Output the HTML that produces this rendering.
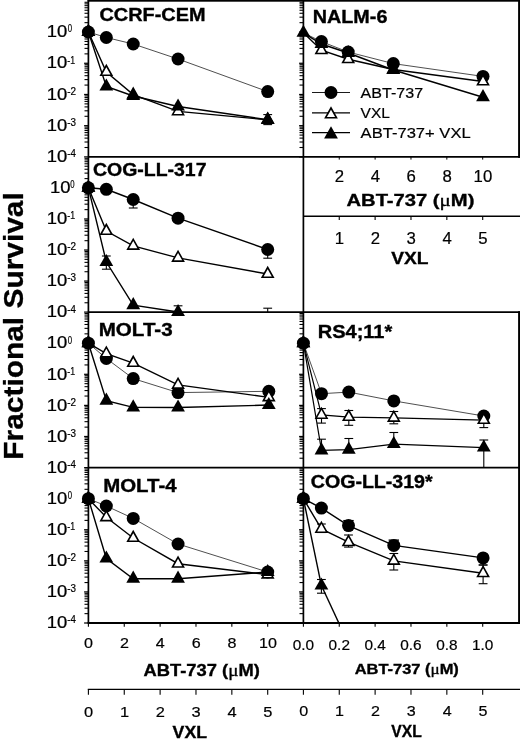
<!DOCTYPE html>
<html><head><meta charset="utf-8"><title>Fractional Survival</title>
<style>
html,body{margin:0;padding:0;background:#fff;}
svg{display:block;}
</style></head>
<body>
<svg width="520" height="743" viewBox="0 0 520 743">
<defs><filter id="soft" x="-5%" y="-5%" width="110%" height="110%" color-interpolation-filters="sRGB"><feGaussianBlur stdDeviation="0.35"/></filter></defs>
<g filter="url(#soft)">
<rect x="-10" y="-10" width="540" height="763" fill="#fff"/>
<g font-family='"Liberation Sans", Arial, Helvetica, sans-serif' fill="#000">
<text transform="translate(22.70,459.64) rotate(-90) scale(1.0625,1)" font-size="28.14" font-weight="bold" stroke="#000" stroke-width="0.3">Fractional Survival</text>
<line x1="84.10" y1="32.06" x2="88.40" y2="32.06" stroke="#000" stroke-width="1.25"/>
<line x1="84.50" y1="22.66" x2="88.40" y2="22.66" stroke="#000" stroke-width="1.1"/>
<line x1="84.50" y1="17.17" x2="88.40" y2="17.17" stroke="#000" stroke-width="1.1"/>
<line x1="84.50" y1="13.27" x2="88.40" y2="13.27" stroke="#000" stroke-width="1.1"/>
<line x1="84.50" y1="10.25" x2="88.40" y2="10.25" stroke="#000" stroke-width="1.1"/>
<line x1="84.50" y1="7.77" x2="88.40" y2="7.77" stroke="#000" stroke-width="1.1"/>
<line x1="84.50" y1="5.68" x2="88.40" y2="5.68" stroke="#000" stroke-width="1.1"/>
<line x1="84.50" y1="3.87" x2="88.40" y2="3.87" stroke="#000" stroke-width="1.1"/>
<line x1="84.50" y1="2.28" x2="88.40" y2="2.28" stroke="#000" stroke-width="1.1"/>
<line x1="84.10" y1="63.27" x2="88.40" y2="63.27" stroke="#000" stroke-width="1.25"/>
<line x1="84.50" y1="53.87" x2="88.40" y2="53.87" stroke="#000" stroke-width="1.1"/>
<line x1="84.50" y1="48.38" x2="88.40" y2="48.38" stroke="#000" stroke-width="1.1"/>
<line x1="84.50" y1="44.48" x2="88.40" y2="44.48" stroke="#000" stroke-width="1.1"/>
<line x1="84.50" y1="41.46" x2="88.40" y2="41.46" stroke="#000" stroke-width="1.1"/>
<line x1="84.50" y1="38.98" x2="88.40" y2="38.98" stroke="#000" stroke-width="1.1"/>
<line x1="84.50" y1="36.89" x2="88.40" y2="36.89" stroke="#000" stroke-width="1.1"/>
<line x1="84.50" y1="35.08" x2="88.40" y2="35.08" stroke="#000" stroke-width="1.1"/>
<line x1="84.50" y1="33.49" x2="88.40" y2="33.49" stroke="#000" stroke-width="1.1"/>
<line x1="84.10" y1="94.48" x2="88.40" y2="94.48" stroke="#000" stroke-width="1.25"/>
<line x1="84.50" y1="85.08" x2="88.40" y2="85.08" stroke="#000" stroke-width="1.1"/>
<line x1="84.50" y1="79.59" x2="88.40" y2="79.59" stroke="#000" stroke-width="1.1"/>
<line x1="84.50" y1="75.69" x2="88.40" y2="75.69" stroke="#000" stroke-width="1.1"/>
<line x1="84.50" y1="72.67" x2="88.40" y2="72.67" stroke="#000" stroke-width="1.1"/>
<line x1="84.50" y1="70.19" x2="88.40" y2="70.19" stroke="#000" stroke-width="1.1"/>
<line x1="84.50" y1="68.10" x2="88.40" y2="68.10" stroke="#000" stroke-width="1.1"/>
<line x1="84.50" y1="66.29" x2="88.40" y2="66.29" stroke="#000" stroke-width="1.1"/>
<line x1="84.50" y1="64.70" x2="88.40" y2="64.70" stroke="#000" stroke-width="1.1"/>
<line x1="84.10" y1="125.69" x2="88.40" y2="125.69" stroke="#000" stroke-width="1.25"/>
<line x1="84.50" y1="116.29" x2="88.40" y2="116.29" stroke="#000" stroke-width="1.1"/>
<line x1="84.50" y1="110.80" x2="88.40" y2="110.80" stroke="#000" stroke-width="1.1"/>
<line x1="84.50" y1="106.90" x2="88.40" y2="106.90" stroke="#000" stroke-width="1.1"/>
<line x1="84.50" y1="103.88" x2="88.40" y2="103.88" stroke="#000" stroke-width="1.1"/>
<line x1="84.50" y1="101.40" x2="88.40" y2="101.40" stroke="#000" stroke-width="1.1"/>
<line x1="84.50" y1="99.31" x2="88.40" y2="99.31" stroke="#000" stroke-width="1.1"/>
<line x1="84.50" y1="97.50" x2="88.40" y2="97.50" stroke="#000" stroke-width="1.1"/>
<line x1="84.50" y1="95.91" x2="88.40" y2="95.91" stroke="#000" stroke-width="1.1"/>
<line x1="84.10" y1="156.90" x2="88.40" y2="156.90" stroke="#000" stroke-width="1.25"/>
<line x1="84.50" y1="147.50" x2="88.40" y2="147.50" stroke="#000" stroke-width="1.1"/>
<line x1="84.50" y1="142.01" x2="88.40" y2="142.01" stroke="#000" stroke-width="1.1"/>
<line x1="84.50" y1="138.11" x2="88.40" y2="138.11" stroke="#000" stroke-width="1.1"/>
<line x1="84.50" y1="135.09" x2="88.40" y2="135.09" stroke="#000" stroke-width="1.1"/>
<line x1="84.50" y1="132.61" x2="88.40" y2="132.61" stroke="#000" stroke-width="1.1"/>
<line x1="84.50" y1="130.52" x2="88.40" y2="130.52" stroke="#000" stroke-width="1.1"/>
<line x1="84.50" y1="128.71" x2="88.40" y2="128.71" stroke="#000" stroke-width="1.1"/>
<line x1="84.50" y1="127.12" x2="88.40" y2="127.12" stroke="#000" stroke-width="1.1"/>
<text transform="translate(46.77,37.26) scale(1.1672,1)" font-size="15.80" stroke="#000" stroke-width="0.25">10</text>
<text transform="translate(67.69,32.46) scale(0.7212,1)" font-size="10.80" stroke="#000" stroke-width="0.2">0</text>
<text transform="translate(46.77,68.47) scale(1.1672,1)" font-size="15.80" stroke="#000" stroke-width="0.25">10</text>
<text transform="translate(67.20,63.67) scale(0.8153,1)" font-size="10.80" stroke="#000" stroke-width="0.2">-1</text>
<text transform="translate(46.77,99.68) scale(1.1672,1)" font-size="15.80" stroke="#000" stroke-width="0.25">10</text>
<text transform="translate(67.15,94.88) scale(0.9201,1)" font-size="10.80" stroke="#000" stroke-width="0.2">-2</text>
<text transform="translate(46.77,130.89) scale(1.1672,1)" font-size="15.80" stroke="#000" stroke-width="0.25">10</text>
<text transform="translate(67.16,126.09) scale(0.9144,1)" font-size="10.80" stroke="#000" stroke-width="0.2">-3</text>
<text transform="translate(46.77,162.10) scale(1.1672,1)" font-size="15.80" stroke="#000" stroke-width="0.25">10</text>
<text transform="translate(67.16,157.30) scale(0.8975,1)" font-size="10.80" stroke="#000" stroke-width="0.2">-4</text>
<line x1="84.10" y1="187.94" x2="88.40" y2="187.94" stroke="#000" stroke-width="1.25"/>
<line x1="84.50" y1="178.60" x2="88.40" y2="178.60" stroke="#000" stroke-width="1.1"/>
<line x1="84.50" y1="173.13" x2="88.40" y2="173.13" stroke="#000" stroke-width="1.1"/>
<line x1="84.50" y1="169.25" x2="88.40" y2="169.25" stroke="#000" stroke-width="1.1"/>
<line x1="84.50" y1="166.24" x2="88.40" y2="166.24" stroke="#000" stroke-width="1.1"/>
<line x1="84.50" y1="163.79" x2="88.40" y2="163.79" stroke="#000" stroke-width="1.1"/>
<line x1="84.50" y1="161.71" x2="88.40" y2="161.71" stroke="#000" stroke-width="1.1"/>
<line x1="84.50" y1="159.91" x2="88.40" y2="159.91" stroke="#000" stroke-width="1.1"/>
<line x1="84.50" y1="158.32" x2="88.40" y2="158.32" stroke="#000" stroke-width="1.1"/>
<line x1="84.10" y1="218.98" x2="88.40" y2="218.98" stroke="#000" stroke-width="1.25"/>
<line x1="84.50" y1="209.64" x2="88.40" y2="209.64" stroke="#000" stroke-width="1.1"/>
<line x1="84.50" y1="204.17" x2="88.40" y2="204.17" stroke="#000" stroke-width="1.1"/>
<line x1="84.50" y1="200.29" x2="88.40" y2="200.29" stroke="#000" stroke-width="1.1"/>
<line x1="84.50" y1="197.28" x2="88.40" y2="197.28" stroke="#000" stroke-width="1.1"/>
<line x1="84.50" y1="194.83" x2="88.40" y2="194.83" stroke="#000" stroke-width="1.1"/>
<line x1="84.50" y1="192.75" x2="88.40" y2="192.75" stroke="#000" stroke-width="1.1"/>
<line x1="84.50" y1="190.95" x2="88.40" y2="190.95" stroke="#000" stroke-width="1.1"/>
<line x1="84.50" y1="189.36" x2="88.40" y2="189.36" stroke="#000" stroke-width="1.1"/>
<line x1="84.10" y1="250.02" x2="88.40" y2="250.02" stroke="#000" stroke-width="1.25"/>
<line x1="84.50" y1="240.68" x2="88.40" y2="240.68" stroke="#000" stroke-width="1.1"/>
<line x1="84.50" y1="235.21" x2="88.40" y2="235.21" stroke="#000" stroke-width="1.1"/>
<line x1="84.50" y1="231.33" x2="88.40" y2="231.33" stroke="#000" stroke-width="1.1"/>
<line x1="84.50" y1="228.32" x2="88.40" y2="228.32" stroke="#000" stroke-width="1.1"/>
<line x1="84.50" y1="225.87" x2="88.40" y2="225.87" stroke="#000" stroke-width="1.1"/>
<line x1="84.50" y1="223.79" x2="88.40" y2="223.79" stroke="#000" stroke-width="1.1"/>
<line x1="84.50" y1="221.99" x2="88.40" y2="221.99" stroke="#000" stroke-width="1.1"/>
<line x1="84.50" y1="220.40" x2="88.40" y2="220.40" stroke="#000" stroke-width="1.1"/>
<line x1="84.10" y1="281.06" x2="88.40" y2="281.06" stroke="#000" stroke-width="1.25"/>
<line x1="84.50" y1="271.72" x2="88.40" y2="271.72" stroke="#000" stroke-width="1.1"/>
<line x1="84.50" y1="266.25" x2="88.40" y2="266.25" stroke="#000" stroke-width="1.1"/>
<line x1="84.50" y1="262.37" x2="88.40" y2="262.37" stroke="#000" stroke-width="1.1"/>
<line x1="84.50" y1="259.36" x2="88.40" y2="259.36" stroke="#000" stroke-width="1.1"/>
<line x1="84.50" y1="256.91" x2="88.40" y2="256.91" stroke="#000" stroke-width="1.1"/>
<line x1="84.50" y1="254.83" x2="88.40" y2="254.83" stroke="#000" stroke-width="1.1"/>
<line x1="84.50" y1="253.03" x2="88.40" y2="253.03" stroke="#000" stroke-width="1.1"/>
<line x1="84.50" y1="251.44" x2="88.40" y2="251.44" stroke="#000" stroke-width="1.1"/>
<line x1="84.10" y1="312.10" x2="88.40" y2="312.10" stroke="#000" stroke-width="1.25"/>
<line x1="84.50" y1="302.76" x2="88.40" y2="302.76" stroke="#000" stroke-width="1.1"/>
<line x1="84.50" y1="297.29" x2="88.40" y2="297.29" stroke="#000" stroke-width="1.1"/>
<line x1="84.50" y1="293.41" x2="88.40" y2="293.41" stroke="#000" stroke-width="1.1"/>
<line x1="84.50" y1="290.40" x2="88.40" y2="290.40" stroke="#000" stroke-width="1.1"/>
<line x1="84.50" y1="287.95" x2="88.40" y2="287.95" stroke="#000" stroke-width="1.1"/>
<line x1="84.50" y1="285.87" x2="88.40" y2="285.87" stroke="#000" stroke-width="1.1"/>
<line x1="84.50" y1="284.07" x2="88.40" y2="284.07" stroke="#000" stroke-width="1.1"/>
<line x1="84.50" y1="282.48" x2="88.40" y2="282.48" stroke="#000" stroke-width="1.1"/>
<text transform="translate(49.97,193.14) scale(1.1672,1)" font-size="15.80" stroke="#000" stroke-width="0.25">10</text>
<text transform="translate(70.25,188.34) scale(0.7212,1)" font-size="10.80" stroke="#000" stroke-width="0.2">0</text>
<text transform="translate(46.77,224.18) scale(1.1672,1)" font-size="15.80" stroke="#000" stroke-width="0.25">10</text>
<text transform="translate(67.20,219.38) scale(0.8153,1)" font-size="10.80" stroke="#000" stroke-width="0.2">-1</text>
<text transform="translate(46.77,255.22) scale(1.1672,1)" font-size="15.80" stroke="#000" stroke-width="0.25">10</text>
<text transform="translate(67.15,250.42) scale(0.9201,1)" font-size="10.80" stroke="#000" stroke-width="0.2">-2</text>
<text transform="translate(46.77,286.26) scale(1.1672,1)" font-size="15.80" stroke="#000" stroke-width="0.25">10</text>
<text transform="translate(67.16,281.46) scale(0.9144,1)" font-size="10.80" stroke="#000" stroke-width="0.2">-3</text>
<text transform="translate(46.77,317.30) scale(1.1672,1)" font-size="15.80" stroke="#000" stroke-width="0.25">10</text>
<text transform="translate(67.16,312.50) scale(0.8975,1)" font-size="10.80" stroke="#000" stroke-width="0.2">-4</text>
<line x1="84.10" y1="343.20" x2="88.40" y2="343.20" stroke="#000" stroke-width="1.25"/>
<line x1="84.50" y1="333.84" x2="88.40" y2="333.84" stroke="#000" stroke-width="1.1"/>
<line x1="84.50" y1="328.36" x2="88.40" y2="328.36" stroke="#000" stroke-width="1.1"/>
<line x1="84.50" y1="324.48" x2="88.40" y2="324.48" stroke="#000" stroke-width="1.1"/>
<line x1="84.50" y1="321.46" x2="88.40" y2="321.46" stroke="#000" stroke-width="1.1"/>
<line x1="84.50" y1="319.00" x2="88.40" y2="319.00" stroke="#000" stroke-width="1.1"/>
<line x1="84.50" y1="316.92" x2="88.40" y2="316.92" stroke="#000" stroke-width="1.1"/>
<line x1="84.50" y1="315.11" x2="88.40" y2="315.11" stroke="#000" stroke-width="1.1"/>
<line x1="84.50" y1="313.52" x2="88.40" y2="313.52" stroke="#000" stroke-width="1.1"/>
<line x1="84.10" y1="374.30" x2="88.40" y2="374.30" stroke="#000" stroke-width="1.25"/>
<line x1="84.50" y1="364.94" x2="88.40" y2="364.94" stroke="#000" stroke-width="1.1"/>
<line x1="84.50" y1="359.46" x2="88.40" y2="359.46" stroke="#000" stroke-width="1.1"/>
<line x1="84.50" y1="355.58" x2="88.40" y2="355.58" stroke="#000" stroke-width="1.1"/>
<line x1="84.50" y1="352.56" x2="88.40" y2="352.56" stroke="#000" stroke-width="1.1"/>
<line x1="84.50" y1="350.10" x2="88.40" y2="350.10" stroke="#000" stroke-width="1.1"/>
<line x1="84.50" y1="348.02" x2="88.40" y2="348.02" stroke="#000" stroke-width="1.1"/>
<line x1="84.50" y1="346.21" x2="88.40" y2="346.21" stroke="#000" stroke-width="1.1"/>
<line x1="84.50" y1="344.62" x2="88.40" y2="344.62" stroke="#000" stroke-width="1.1"/>
<line x1="84.10" y1="405.40" x2="88.40" y2="405.40" stroke="#000" stroke-width="1.25"/>
<line x1="84.50" y1="396.04" x2="88.40" y2="396.04" stroke="#000" stroke-width="1.1"/>
<line x1="84.50" y1="390.56" x2="88.40" y2="390.56" stroke="#000" stroke-width="1.1"/>
<line x1="84.50" y1="386.68" x2="88.40" y2="386.68" stroke="#000" stroke-width="1.1"/>
<line x1="84.50" y1="383.66" x2="88.40" y2="383.66" stroke="#000" stroke-width="1.1"/>
<line x1="84.50" y1="381.20" x2="88.40" y2="381.20" stroke="#000" stroke-width="1.1"/>
<line x1="84.50" y1="379.12" x2="88.40" y2="379.12" stroke="#000" stroke-width="1.1"/>
<line x1="84.50" y1="377.31" x2="88.40" y2="377.31" stroke="#000" stroke-width="1.1"/>
<line x1="84.50" y1="375.72" x2="88.40" y2="375.72" stroke="#000" stroke-width="1.1"/>
<line x1="84.10" y1="436.50" x2="88.40" y2="436.50" stroke="#000" stroke-width="1.25"/>
<line x1="84.50" y1="427.14" x2="88.40" y2="427.14" stroke="#000" stroke-width="1.1"/>
<line x1="84.50" y1="421.66" x2="88.40" y2="421.66" stroke="#000" stroke-width="1.1"/>
<line x1="84.50" y1="417.78" x2="88.40" y2="417.78" stroke="#000" stroke-width="1.1"/>
<line x1="84.50" y1="414.76" x2="88.40" y2="414.76" stroke="#000" stroke-width="1.1"/>
<line x1="84.50" y1="412.30" x2="88.40" y2="412.30" stroke="#000" stroke-width="1.1"/>
<line x1="84.50" y1="410.22" x2="88.40" y2="410.22" stroke="#000" stroke-width="1.1"/>
<line x1="84.50" y1="408.41" x2="88.40" y2="408.41" stroke="#000" stroke-width="1.1"/>
<line x1="84.50" y1="406.82" x2="88.40" y2="406.82" stroke="#000" stroke-width="1.1"/>
<line x1="84.10" y1="467.60" x2="88.40" y2="467.60" stroke="#000" stroke-width="1.25"/>
<line x1="84.50" y1="458.24" x2="88.40" y2="458.24" stroke="#000" stroke-width="1.1"/>
<line x1="84.50" y1="452.76" x2="88.40" y2="452.76" stroke="#000" stroke-width="1.1"/>
<line x1="84.50" y1="448.88" x2="88.40" y2="448.88" stroke="#000" stroke-width="1.1"/>
<line x1="84.50" y1="445.86" x2="88.40" y2="445.86" stroke="#000" stroke-width="1.1"/>
<line x1="84.50" y1="443.40" x2="88.40" y2="443.40" stroke="#000" stroke-width="1.1"/>
<line x1="84.50" y1="441.32" x2="88.40" y2="441.32" stroke="#000" stroke-width="1.1"/>
<line x1="84.50" y1="439.51" x2="88.40" y2="439.51" stroke="#000" stroke-width="1.1"/>
<line x1="84.50" y1="437.92" x2="88.40" y2="437.92" stroke="#000" stroke-width="1.1"/>
<text transform="translate(46.77,348.40) scale(1.1672,1)" font-size="15.80" stroke="#000" stroke-width="0.25">10</text>
<text transform="translate(67.69,343.60) scale(0.7212,1)" font-size="10.80" stroke="#000" stroke-width="0.2">0</text>
<text transform="translate(46.77,379.50) scale(1.1672,1)" font-size="15.80" stroke="#000" stroke-width="0.25">10</text>
<text transform="translate(67.20,374.70) scale(0.8153,1)" font-size="10.80" stroke="#000" stroke-width="0.2">-1</text>
<text transform="translate(46.77,410.60) scale(1.1672,1)" font-size="15.80" stroke="#000" stroke-width="0.25">10</text>
<text transform="translate(67.15,405.80) scale(0.9201,1)" font-size="10.80" stroke="#000" stroke-width="0.2">-2</text>
<text transform="translate(46.77,441.70) scale(1.1672,1)" font-size="15.80" stroke="#000" stroke-width="0.25">10</text>
<text transform="translate(67.16,436.90) scale(0.9144,1)" font-size="10.80" stroke="#000" stroke-width="0.2">-3</text>
<text transform="translate(46.77,472.80) scale(1.1672,1)" font-size="15.80" stroke="#000" stroke-width="0.25">10</text>
<text transform="translate(67.16,468.00) scale(0.8975,1)" font-size="10.80" stroke="#000" stroke-width="0.2">-4</text>
<line x1="84.10" y1="498.68" x2="88.40" y2="498.68" stroke="#000" stroke-width="1.25"/>
<line x1="84.50" y1="489.32" x2="88.40" y2="489.32" stroke="#000" stroke-width="1.1"/>
<line x1="84.50" y1="483.85" x2="88.40" y2="483.85" stroke="#000" stroke-width="1.1"/>
<line x1="84.50" y1="479.97" x2="88.40" y2="479.97" stroke="#000" stroke-width="1.1"/>
<line x1="84.50" y1="476.96" x2="88.40" y2="476.96" stroke="#000" stroke-width="1.1"/>
<line x1="84.50" y1="474.50" x2="88.40" y2="474.50" stroke="#000" stroke-width="1.1"/>
<line x1="84.50" y1="472.41" x2="88.40" y2="472.41" stroke="#000" stroke-width="1.1"/>
<line x1="84.50" y1="470.61" x2="88.40" y2="470.61" stroke="#000" stroke-width="1.1"/>
<line x1="84.50" y1="469.02" x2="88.40" y2="469.02" stroke="#000" stroke-width="1.1"/>
<line x1="84.10" y1="529.76" x2="88.40" y2="529.76" stroke="#000" stroke-width="1.25"/>
<line x1="84.50" y1="520.40" x2="88.40" y2="520.40" stroke="#000" stroke-width="1.1"/>
<line x1="84.50" y1="514.93" x2="88.40" y2="514.93" stroke="#000" stroke-width="1.1"/>
<line x1="84.50" y1="511.05" x2="88.40" y2="511.05" stroke="#000" stroke-width="1.1"/>
<line x1="84.50" y1="508.04" x2="88.40" y2="508.04" stroke="#000" stroke-width="1.1"/>
<line x1="84.50" y1="505.58" x2="88.40" y2="505.58" stroke="#000" stroke-width="1.1"/>
<line x1="84.50" y1="503.49" x2="88.40" y2="503.49" stroke="#000" stroke-width="1.1"/>
<line x1="84.50" y1="501.69" x2="88.40" y2="501.69" stroke="#000" stroke-width="1.1"/>
<line x1="84.50" y1="500.10" x2="88.40" y2="500.10" stroke="#000" stroke-width="1.1"/>
<line x1="84.10" y1="560.84" x2="88.40" y2="560.84" stroke="#000" stroke-width="1.25"/>
<line x1="84.50" y1="551.48" x2="88.40" y2="551.48" stroke="#000" stroke-width="1.1"/>
<line x1="84.50" y1="546.01" x2="88.40" y2="546.01" stroke="#000" stroke-width="1.1"/>
<line x1="84.50" y1="542.13" x2="88.40" y2="542.13" stroke="#000" stroke-width="1.1"/>
<line x1="84.50" y1="539.12" x2="88.40" y2="539.12" stroke="#000" stroke-width="1.1"/>
<line x1="84.50" y1="536.66" x2="88.40" y2="536.66" stroke="#000" stroke-width="1.1"/>
<line x1="84.50" y1="534.57" x2="88.40" y2="534.57" stroke="#000" stroke-width="1.1"/>
<line x1="84.50" y1="532.77" x2="88.40" y2="532.77" stroke="#000" stroke-width="1.1"/>
<line x1="84.50" y1="531.18" x2="88.40" y2="531.18" stroke="#000" stroke-width="1.1"/>
<line x1="84.10" y1="591.92" x2="88.40" y2="591.92" stroke="#000" stroke-width="1.25"/>
<line x1="84.50" y1="582.56" x2="88.40" y2="582.56" stroke="#000" stroke-width="1.1"/>
<line x1="84.50" y1="577.09" x2="88.40" y2="577.09" stroke="#000" stroke-width="1.1"/>
<line x1="84.50" y1="573.21" x2="88.40" y2="573.21" stroke="#000" stroke-width="1.1"/>
<line x1="84.50" y1="570.20" x2="88.40" y2="570.20" stroke="#000" stroke-width="1.1"/>
<line x1="84.50" y1="567.74" x2="88.40" y2="567.74" stroke="#000" stroke-width="1.1"/>
<line x1="84.50" y1="565.65" x2="88.40" y2="565.65" stroke="#000" stroke-width="1.1"/>
<line x1="84.50" y1="563.85" x2="88.40" y2="563.85" stroke="#000" stroke-width="1.1"/>
<line x1="84.50" y1="562.26" x2="88.40" y2="562.26" stroke="#000" stroke-width="1.1"/>
<line x1="84.10" y1="623.00" x2="88.40" y2="623.00" stroke="#000" stroke-width="1.25"/>
<line x1="84.50" y1="613.64" x2="88.40" y2="613.64" stroke="#000" stroke-width="1.1"/>
<line x1="84.50" y1="608.17" x2="88.40" y2="608.17" stroke="#000" stroke-width="1.1"/>
<line x1="84.50" y1="604.29" x2="88.40" y2="604.29" stroke="#000" stroke-width="1.1"/>
<line x1="84.50" y1="601.28" x2="88.40" y2="601.28" stroke="#000" stroke-width="1.1"/>
<line x1="84.50" y1="598.82" x2="88.40" y2="598.82" stroke="#000" stroke-width="1.1"/>
<line x1="84.50" y1="596.73" x2="88.40" y2="596.73" stroke="#000" stroke-width="1.1"/>
<line x1="84.50" y1="594.93" x2="88.40" y2="594.93" stroke="#000" stroke-width="1.1"/>
<line x1="84.50" y1="593.34" x2="88.40" y2="593.34" stroke="#000" stroke-width="1.1"/>
<text transform="translate(46.77,503.88) scale(1.1672,1)" font-size="15.80" stroke="#000" stroke-width="0.25">10</text>
<text transform="translate(67.69,499.08) scale(0.7212,1)" font-size="10.80" stroke="#000" stroke-width="0.2">0</text>
<text transform="translate(46.77,534.96) scale(1.1672,1)" font-size="15.80" stroke="#000" stroke-width="0.25">10</text>
<text transform="translate(67.20,530.16) scale(0.8153,1)" font-size="10.80" stroke="#000" stroke-width="0.2">-1</text>
<text transform="translate(46.77,566.04) scale(1.1672,1)" font-size="15.80" stroke="#000" stroke-width="0.25">10</text>
<text transform="translate(67.15,561.24) scale(0.9201,1)" font-size="10.80" stroke="#000" stroke-width="0.2">-2</text>
<text transform="translate(46.77,597.12) scale(1.1672,1)" font-size="15.80" stroke="#000" stroke-width="0.25">10</text>
<text transform="translate(67.16,592.32) scale(0.9144,1)" font-size="10.80" stroke="#000" stroke-width="0.2">-3</text>
<text transform="translate(46.77,628.20) scale(1.1672,1)" font-size="15.80" stroke="#000" stroke-width="0.25">10</text>
<text transform="translate(67.16,623.40) scale(0.8975,1)" font-size="10.80" stroke="#000" stroke-width="0.2">-4</text>
<line x1="299.10" y1="32.06" x2="303.40" y2="32.06" stroke="#000" stroke-width="1.25"/>
<line x1="299.50" y1="22.66" x2="303.40" y2="22.66" stroke="#000" stroke-width="1.1"/>
<line x1="299.50" y1="17.17" x2="303.40" y2="17.17" stroke="#000" stroke-width="1.1"/>
<line x1="299.50" y1="13.27" x2="303.40" y2="13.27" stroke="#000" stroke-width="1.1"/>
<line x1="299.50" y1="10.25" x2="303.40" y2="10.25" stroke="#000" stroke-width="1.1"/>
<line x1="299.50" y1="7.77" x2="303.40" y2="7.77" stroke="#000" stroke-width="1.1"/>
<line x1="299.50" y1="5.68" x2="303.40" y2="5.68" stroke="#000" stroke-width="1.1"/>
<line x1="299.50" y1="3.87" x2="303.40" y2="3.87" stroke="#000" stroke-width="1.1"/>
<line x1="299.50" y1="2.28" x2="303.40" y2="2.28" stroke="#000" stroke-width="1.1"/>
<line x1="299.10" y1="63.27" x2="303.40" y2="63.27" stroke="#000" stroke-width="1.25"/>
<line x1="299.50" y1="53.87" x2="303.40" y2="53.87" stroke="#000" stroke-width="1.1"/>
<line x1="299.50" y1="48.38" x2="303.40" y2="48.38" stroke="#000" stroke-width="1.1"/>
<line x1="299.50" y1="44.48" x2="303.40" y2="44.48" stroke="#000" stroke-width="1.1"/>
<line x1="299.50" y1="41.46" x2="303.40" y2="41.46" stroke="#000" stroke-width="1.1"/>
<line x1="299.50" y1="38.98" x2="303.40" y2="38.98" stroke="#000" stroke-width="1.1"/>
<line x1="299.50" y1="36.89" x2="303.40" y2="36.89" stroke="#000" stroke-width="1.1"/>
<line x1="299.50" y1="35.08" x2="303.40" y2="35.08" stroke="#000" stroke-width="1.1"/>
<line x1="299.50" y1="33.49" x2="303.40" y2="33.49" stroke="#000" stroke-width="1.1"/>
<line x1="299.10" y1="94.48" x2="303.40" y2="94.48" stroke="#000" stroke-width="1.25"/>
<line x1="299.50" y1="85.08" x2="303.40" y2="85.08" stroke="#000" stroke-width="1.1"/>
<line x1="299.50" y1="79.59" x2="303.40" y2="79.59" stroke="#000" stroke-width="1.1"/>
<line x1="299.50" y1="75.69" x2="303.40" y2="75.69" stroke="#000" stroke-width="1.1"/>
<line x1="299.50" y1="72.67" x2="303.40" y2="72.67" stroke="#000" stroke-width="1.1"/>
<line x1="299.50" y1="70.19" x2="303.40" y2="70.19" stroke="#000" stroke-width="1.1"/>
<line x1="299.50" y1="68.10" x2="303.40" y2="68.10" stroke="#000" stroke-width="1.1"/>
<line x1="299.50" y1="66.29" x2="303.40" y2="66.29" stroke="#000" stroke-width="1.1"/>
<line x1="299.50" y1="64.70" x2="303.40" y2="64.70" stroke="#000" stroke-width="1.1"/>
<line x1="299.10" y1="125.69" x2="303.40" y2="125.69" stroke="#000" stroke-width="1.25"/>
<line x1="299.50" y1="116.29" x2="303.40" y2="116.29" stroke="#000" stroke-width="1.1"/>
<line x1="299.50" y1="110.80" x2="303.40" y2="110.80" stroke="#000" stroke-width="1.1"/>
<line x1="299.50" y1="106.90" x2="303.40" y2="106.90" stroke="#000" stroke-width="1.1"/>
<line x1="299.50" y1="103.88" x2="303.40" y2="103.88" stroke="#000" stroke-width="1.1"/>
<line x1="299.50" y1="101.40" x2="303.40" y2="101.40" stroke="#000" stroke-width="1.1"/>
<line x1="299.50" y1="99.31" x2="303.40" y2="99.31" stroke="#000" stroke-width="1.1"/>
<line x1="299.50" y1="97.50" x2="303.40" y2="97.50" stroke="#000" stroke-width="1.1"/>
<line x1="299.50" y1="95.91" x2="303.40" y2="95.91" stroke="#000" stroke-width="1.1"/>
<line x1="299.10" y1="156.90" x2="303.40" y2="156.90" stroke="#000" stroke-width="1.25"/>
<line x1="299.50" y1="147.50" x2="303.40" y2="147.50" stroke="#000" stroke-width="1.1"/>
<line x1="299.50" y1="142.01" x2="303.40" y2="142.01" stroke="#000" stroke-width="1.1"/>
<line x1="299.50" y1="138.11" x2="303.40" y2="138.11" stroke="#000" stroke-width="1.1"/>
<line x1="299.50" y1="135.09" x2="303.40" y2="135.09" stroke="#000" stroke-width="1.1"/>
<line x1="299.50" y1="132.61" x2="303.40" y2="132.61" stroke="#000" stroke-width="1.1"/>
<line x1="299.50" y1="130.52" x2="303.40" y2="130.52" stroke="#000" stroke-width="1.1"/>
<line x1="299.50" y1="128.71" x2="303.40" y2="128.71" stroke="#000" stroke-width="1.1"/>
<line x1="299.50" y1="127.12" x2="303.40" y2="127.12" stroke="#000" stroke-width="1.1"/>
<line x1="299.10" y1="343.20" x2="303.40" y2="343.20" stroke="#000" stroke-width="1.25"/>
<line x1="299.50" y1="333.84" x2="303.40" y2="333.84" stroke="#000" stroke-width="1.1"/>
<line x1="299.50" y1="328.36" x2="303.40" y2="328.36" stroke="#000" stroke-width="1.1"/>
<line x1="299.50" y1="324.48" x2="303.40" y2="324.48" stroke="#000" stroke-width="1.1"/>
<line x1="299.50" y1="321.46" x2="303.40" y2="321.46" stroke="#000" stroke-width="1.1"/>
<line x1="299.50" y1="319.00" x2="303.40" y2="319.00" stroke="#000" stroke-width="1.1"/>
<line x1="299.50" y1="316.92" x2="303.40" y2="316.92" stroke="#000" stroke-width="1.1"/>
<line x1="299.50" y1="315.11" x2="303.40" y2="315.11" stroke="#000" stroke-width="1.1"/>
<line x1="299.50" y1="313.52" x2="303.40" y2="313.52" stroke="#000" stroke-width="1.1"/>
<line x1="299.10" y1="374.30" x2="303.40" y2="374.30" stroke="#000" stroke-width="1.25"/>
<line x1="299.50" y1="364.94" x2="303.40" y2="364.94" stroke="#000" stroke-width="1.1"/>
<line x1="299.50" y1="359.46" x2="303.40" y2="359.46" stroke="#000" stroke-width="1.1"/>
<line x1="299.50" y1="355.58" x2="303.40" y2="355.58" stroke="#000" stroke-width="1.1"/>
<line x1="299.50" y1="352.56" x2="303.40" y2="352.56" stroke="#000" stroke-width="1.1"/>
<line x1="299.50" y1="350.10" x2="303.40" y2="350.10" stroke="#000" stroke-width="1.1"/>
<line x1="299.50" y1="348.02" x2="303.40" y2="348.02" stroke="#000" stroke-width="1.1"/>
<line x1="299.50" y1="346.21" x2="303.40" y2="346.21" stroke="#000" stroke-width="1.1"/>
<line x1="299.50" y1="344.62" x2="303.40" y2="344.62" stroke="#000" stroke-width="1.1"/>
<line x1="299.10" y1="405.40" x2="303.40" y2="405.40" stroke="#000" stroke-width="1.25"/>
<line x1="299.50" y1="396.04" x2="303.40" y2="396.04" stroke="#000" stroke-width="1.1"/>
<line x1="299.50" y1="390.56" x2="303.40" y2="390.56" stroke="#000" stroke-width="1.1"/>
<line x1="299.50" y1="386.68" x2="303.40" y2="386.68" stroke="#000" stroke-width="1.1"/>
<line x1="299.50" y1="383.66" x2="303.40" y2="383.66" stroke="#000" stroke-width="1.1"/>
<line x1="299.50" y1="381.20" x2="303.40" y2="381.20" stroke="#000" stroke-width="1.1"/>
<line x1="299.50" y1="379.12" x2="303.40" y2="379.12" stroke="#000" stroke-width="1.1"/>
<line x1="299.50" y1="377.31" x2="303.40" y2="377.31" stroke="#000" stroke-width="1.1"/>
<line x1="299.50" y1="375.72" x2="303.40" y2="375.72" stroke="#000" stroke-width="1.1"/>
<line x1="299.10" y1="436.50" x2="303.40" y2="436.50" stroke="#000" stroke-width="1.25"/>
<line x1="299.50" y1="427.14" x2="303.40" y2="427.14" stroke="#000" stroke-width="1.1"/>
<line x1="299.50" y1="421.66" x2="303.40" y2="421.66" stroke="#000" stroke-width="1.1"/>
<line x1="299.50" y1="417.78" x2="303.40" y2="417.78" stroke="#000" stroke-width="1.1"/>
<line x1="299.50" y1="414.76" x2="303.40" y2="414.76" stroke="#000" stroke-width="1.1"/>
<line x1="299.50" y1="412.30" x2="303.40" y2="412.30" stroke="#000" stroke-width="1.1"/>
<line x1="299.50" y1="410.22" x2="303.40" y2="410.22" stroke="#000" stroke-width="1.1"/>
<line x1="299.50" y1="408.41" x2="303.40" y2="408.41" stroke="#000" stroke-width="1.1"/>
<line x1="299.50" y1="406.82" x2="303.40" y2="406.82" stroke="#000" stroke-width="1.1"/>
<line x1="299.10" y1="467.60" x2="303.40" y2="467.60" stroke="#000" stroke-width="1.25"/>
<line x1="299.50" y1="458.24" x2="303.40" y2="458.24" stroke="#000" stroke-width="1.1"/>
<line x1="299.50" y1="452.76" x2="303.40" y2="452.76" stroke="#000" stroke-width="1.1"/>
<line x1="299.50" y1="448.88" x2="303.40" y2="448.88" stroke="#000" stroke-width="1.1"/>
<line x1="299.50" y1="445.86" x2="303.40" y2="445.86" stroke="#000" stroke-width="1.1"/>
<line x1="299.50" y1="443.40" x2="303.40" y2="443.40" stroke="#000" stroke-width="1.1"/>
<line x1="299.50" y1="441.32" x2="303.40" y2="441.32" stroke="#000" stroke-width="1.1"/>
<line x1="299.50" y1="439.51" x2="303.40" y2="439.51" stroke="#000" stroke-width="1.1"/>
<line x1="299.50" y1="437.92" x2="303.40" y2="437.92" stroke="#000" stroke-width="1.1"/>
<line x1="299.10" y1="498.68" x2="303.40" y2="498.68" stroke="#000" stroke-width="1.25"/>
<line x1="299.50" y1="489.32" x2="303.40" y2="489.32" stroke="#000" stroke-width="1.1"/>
<line x1="299.50" y1="483.85" x2="303.40" y2="483.85" stroke="#000" stroke-width="1.1"/>
<line x1="299.50" y1="479.97" x2="303.40" y2="479.97" stroke="#000" stroke-width="1.1"/>
<line x1="299.50" y1="476.96" x2="303.40" y2="476.96" stroke="#000" stroke-width="1.1"/>
<line x1="299.50" y1="474.50" x2="303.40" y2="474.50" stroke="#000" stroke-width="1.1"/>
<line x1="299.50" y1="472.41" x2="303.40" y2="472.41" stroke="#000" stroke-width="1.1"/>
<line x1="299.50" y1="470.61" x2="303.40" y2="470.61" stroke="#000" stroke-width="1.1"/>
<line x1="299.50" y1="469.02" x2="303.40" y2="469.02" stroke="#000" stroke-width="1.1"/>
<line x1="299.10" y1="529.76" x2="303.40" y2="529.76" stroke="#000" stroke-width="1.25"/>
<line x1="299.50" y1="520.40" x2="303.40" y2="520.40" stroke="#000" stroke-width="1.1"/>
<line x1="299.50" y1="514.93" x2="303.40" y2="514.93" stroke="#000" stroke-width="1.1"/>
<line x1="299.50" y1="511.05" x2="303.40" y2="511.05" stroke="#000" stroke-width="1.1"/>
<line x1="299.50" y1="508.04" x2="303.40" y2="508.04" stroke="#000" stroke-width="1.1"/>
<line x1="299.50" y1="505.58" x2="303.40" y2="505.58" stroke="#000" stroke-width="1.1"/>
<line x1="299.50" y1="503.49" x2="303.40" y2="503.49" stroke="#000" stroke-width="1.1"/>
<line x1="299.50" y1="501.69" x2="303.40" y2="501.69" stroke="#000" stroke-width="1.1"/>
<line x1="299.50" y1="500.10" x2="303.40" y2="500.10" stroke="#000" stroke-width="1.1"/>
<line x1="299.10" y1="560.84" x2="303.40" y2="560.84" stroke="#000" stroke-width="1.25"/>
<line x1="299.50" y1="551.48" x2="303.40" y2="551.48" stroke="#000" stroke-width="1.1"/>
<line x1="299.50" y1="546.01" x2="303.40" y2="546.01" stroke="#000" stroke-width="1.1"/>
<line x1="299.50" y1="542.13" x2="303.40" y2="542.13" stroke="#000" stroke-width="1.1"/>
<line x1="299.50" y1="539.12" x2="303.40" y2="539.12" stroke="#000" stroke-width="1.1"/>
<line x1="299.50" y1="536.66" x2="303.40" y2="536.66" stroke="#000" stroke-width="1.1"/>
<line x1="299.50" y1="534.57" x2="303.40" y2="534.57" stroke="#000" stroke-width="1.1"/>
<line x1="299.50" y1="532.77" x2="303.40" y2="532.77" stroke="#000" stroke-width="1.1"/>
<line x1="299.50" y1="531.18" x2="303.40" y2="531.18" stroke="#000" stroke-width="1.1"/>
<line x1="299.10" y1="591.92" x2="303.40" y2="591.92" stroke="#000" stroke-width="1.25"/>
<line x1="299.50" y1="582.56" x2="303.40" y2="582.56" stroke="#000" stroke-width="1.1"/>
<line x1="299.50" y1="577.09" x2="303.40" y2="577.09" stroke="#000" stroke-width="1.1"/>
<line x1="299.50" y1="573.21" x2="303.40" y2="573.21" stroke="#000" stroke-width="1.1"/>
<line x1="299.50" y1="570.20" x2="303.40" y2="570.20" stroke="#000" stroke-width="1.1"/>
<line x1="299.50" y1="567.74" x2="303.40" y2="567.74" stroke="#000" stroke-width="1.1"/>
<line x1="299.50" y1="565.65" x2="303.40" y2="565.65" stroke="#000" stroke-width="1.1"/>
<line x1="299.50" y1="563.85" x2="303.40" y2="563.85" stroke="#000" stroke-width="1.1"/>
<line x1="299.50" y1="562.26" x2="303.40" y2="562.26" stroke="#000" stroke-width="1.1"/>
<line x1="299.10" y1="623.00" x2="303.40" y2="623.00" stroke="#000" stroke-width="1.25"/>
<line x1="299.50" y1="613.64" x2="303.40" y2="613.64" stroke="#000" stroke-width="1.1"/>
<line x1="299.50" y1="608.17" x2="303.40" y2="608.17" stroke="#000" stroke-width="1.1"/>
<line x1="299.50" y1="604.29" x2="303.40" y2="604.29" stroke="#000" stroke-width="1.1"/>
<line x1="299.50" y1="601.28" x2="303.40" y2="601.28" stroke="#000" stroke-width="1.1"/>
<line x1="299.50" y1="598.82" x2="303.40" y2="598.82" stroke="#000" stroke-width="1.1"/>
<line x1="299.50" y1="596.73" x2="303.40" y2="596.73" stroke="#000" stroke-width="1.1"/>
<line x1="299.50" y1="594.93" x2="303.40" y2="594.93" stroke="#000" stroke-width="1.1"/>
<line x1="299.50" y1="593.34" x2="303.40" y2="593.34" stroke="#000" stroke-width="1.1"/>
<defs>
<clipPath id="cr0"><rect x="295.4" y="0.85" width="223.70000000000005" height="155.6"/></clipPath>
<clipPath id="cr1"><rect x="295.4" y="156.9" width="223.70000000000005" height="155.6"/></clipPath>
<clipPath id="cr2"><rect x="295.4" y="312.1" width="223.70000000000005" height="155.6"/></clipPath>
<clipPath id="cr3"><rect x="295.4" y="467.6" width="223.70000000000005" height="155.6"/></clipPath>
</defs>
<polyline points="88.40,32.00 106.33,37.50 133.23,44.00 178.05,59.00 267.70,91.60" fill="none" stroke="#222" stroke-width="0.8"/>
<polyline points="88.40,32.00 106.33,72.03 133.23,94.63 178.05,111.43 267.70,119.83" fill="none" stroke="#000" stroke-width="1.4"/>
<polyline points="88.40,32.00 106.33,86.53 133.23,96.03 178.05,106.53 267.70,119.73" fill="none" stroke="#000" stroke-width="1.4"/>
<circle cx="88.40" cy="32.00" r="6.5" fill="#000"/>
<circle cx="106.33" cy="37.50" r="6.5" fill="#000"/>
<circle cx="133.23" cy="44.00" r="6.5" fill="#000"/>
<circle cx="178.05" cy="59.00" r="6.5" fill="#000"/>
<circle cx="267.70" cy="91.60" r="6.5" fill="#000"/>
<polygon points="88.40,25.47 93.90,35.27 82.90,35.27" fill="#fff" stroke="#000" stroke-width="1.6" stroke-linejoin="miter"/>
<polygon points="106.33,65.50 111.83,75.30 100.83,75.30" fill="#fff" stroke="#000" stroke-width="1.6" stroke-linejoin="miter"/>
<polygon points="133.23,88.10 138.73,97.90 127.73,97.90" fill="#fff" stroke="#000" stroke-width="1.6" stroke-linejoin="miter"/>
<polygon points="178.05,104.90 183.55,114.70 172.55,114.70" fill="#fff" stroke="#000" stroke-width="1.6" stroke-linejoin="miter"/>
<polygon points="267.70,113.30 273.20,123.10 262.20,123.10" fill="#fff" stroke="#000" stroke-width="1.6" stroke-linejoin="miter"/>
<line x1="267.70" y1="114.60" x2="267.70" y2="124.60" stroke="#000" stroke-width="1.1"/>
<line x1="263.30" y1="114.60" x2="272.10" y2="114.60" stroke="#000" stroke-width="1.1"/>
<line x1="263.30" y1="124.60" x2="272.10" y2="124.60" stroke="#000" stroke-width="1.1"/>
<polygon points="88.40,23.87 95.30,36.07 81.50,36.07" fill="#000"/>
<polygon points="106.33,78.40 113.23,90.60 99.43,90.60" fill="#000"/>
<polygon points="133.23,87.90 140.13,100.10 126.33,100.10" fill="#000"/>
<polygon points="178.05,98.40 184.95,110.60 171.15,110.60" fill="#000"/>
<polygon points="267.70,111.60 274.60,123.80 260.80,123.80" fill="#000"/>
<polyline points="88.40,187.80 106.33,189.30 133.23,199.50 178.05,218.20 267.70,249.50" fill="none" stroke="#000" stroke-width="1.4"/>
<polyline points="88.40,187.80 106.33,231.03 133.23,245.83 178.05,257.83 267.70,274.03" fill="none" stroke="#000" stroke-width="1.4"/>
<polyline points="88.40,187.80 106.33,262.03 133.23,305.23 178.05,312.03" fill="none" stroke="#000" stroke-width="1.4"/>
<line x1="133.23" y1="200.00" x2="133.23" y2="208.00" stroke="#000" stroke-width="1.1"/>
<line x1="128.83" y1="208.00" x2="137.63" y2="208.00" stroke="#000" stroke-width="1.1"/>
<line x1="267.70" y1="249.50" x2="267.70" y2="258.20" stroke="#000" stroke-width="1.1"/>
<line x1="263.30" y1="258.20" x2="272.10" y2="258.20" stroke="#000" stroke-width="1.1"/>
<circle cx="88.40" cy="187.80" r="6.5" fill="#000"/>
<circle cx="106.33" cy="189.30" r="6.5" fill="#000"/>
<circle cx="133.23" cy="199.50" r="6.5" fill="#000"/>
<circle cx="178.05" cy="218.20" r="6.5" fill="#000"/>
<circle cx="267.70" cy="249.50" r="6.5" fill="#000"/>
<polygon points="88.40,181.27 93.90,191.07 82.90,191.07" fill="#fff" stroke="#000" stroke-width="1.6" stroke-linejoin="miter"/>
<polygon points="106.33,224.50 111.83,234.30 100.83,234.30" fill="#fff" stroke="#000" stroke-width="1.6" stroke-linejoin="miter"/>
<polygon points="133.23,239.30 138.73,249.10 127.73,249.10" fill="#fff" stroke="#000" stroke-width="1.6" stroke-linejoin="miter"/>
<polygon points="178.05,251.30 183.55,261.10 172.55,261.10" fill="#fff" stroke="#000" stroke-width="1.6" stroke-linejoin="miter"/>
<polygon points="267.70,267.50 273.20,277.30 262.20,277.30" fill="#fff" stroke="#000" stroke-width="1.6" stroke-linejoin="miter"/>
<line x1="106.33" y1="256.00" x2="106.33" y2="269.20" stroke="#000" stroke-width="1.1"/>
<line x1="101.93" y1="256.00" x2="110.73" y2="256.00" stroke="#000" stroke-width="1.1"/>
<line x1="101.93" y1="269.20" x2="110.73" y2="269.20" stroke="#000" stroke-width="1.1"/>
<line x1="267.70" y1="308.20" x2="267.70" y2="312.00" stroke="#000" stroke-width="1.1"/>
<line x1="263.30" y1="308.20" x2="272.10" y2="308.20" stroke="#000" stroke-width="1.1"/>
<line x1="178.05" y1="305.80" x2="178.05" y2="311.00" stroke="#000" stroke-width="1.1"/>
<line x1="173.65" y1="305.80" x2="182.45" y2="305.80" stroke="#000" stroke-width="1.1"/>
<polygon points="88.40,179.67 95.30,191.87 81.50,191.87" fill="#000"/>
<polygon points="106.33,253.90 113.23,266.10 99.43,266.10" fill="#000"/>
<polygon points="133.23,297.10 140.13,309.30 126.33,309.30" fill="#000"/>
<polygon points="178.05,303.90 184.95,316.10 171.15,316.10" fill="#000"/>
<polyline points="88.40,343.20 106.33,358.50 133.23,378.60 178.05,392.60 268.80,391.30" fill="none" stroke="#222" stroke-width="0.8"/>
<polyline points="88.40,343.20 106.33,353.63 133.23,363.03 178.05,384.83 268.80,397.33" fill="none" stroke="#000" stroke-width="1.4"/>
<polyline points="88.40,343.20 106.33,400.73 133.23,407.33 178.05,407.53 268.80,405.03" fill="none" stroke="#000" stroke-width="1.4"/>
<circle cx="88.40" cy="343.20" r="6.5" fill="#000"/>
<circle cx="106.33" cy="358.50" r="6.5" fill="#000"/>
<circle cx="133.23" cy="378.60" r="6.5" fill="#000"/>
<circle cx="178.05" cy="392.60" r="6.5" fill="#000"/>
<circle cx="268.80" cy="391.30" r="6.5" fill="#000"/>
<polygon points="88.40,336.67 93.90,346.47 82.90,346.47" fill="#fff" stroke="#000" stroke-width="1.6" stroke-linejoin="miter"/>
<polygon points="106.33,347.10 111.83,356.90 100.83,356.90" fill="#fff" stroke="#000" stroke-width="1.6" stroke-linejoin="miter"/>
<polygon points="133.23,356.50 138.73,366.30 127.73,366.30" fill="#fff" stroke="#000" stroke-width="1.6" stroke-linejoin="miter"/>
<polygon points="178.05,378.30 183.55,388.10 172.55,388.10" fill="#fff" stroke="#000" stroke-width="1.6" stroke-linejoin="miter"/>
<polygon points="268.80,390.80 274.30,400.60 263.30,400.60" fill="#fff" stroke="#000" stroke-width="1.6" stroke-linejoin="miter"/>
<polygon points="88.40,335.07 95.30,347.27 81.50,347.27" fill="#000"/>
<polygon points="106.33,392.60 113.23,404.80 99.43,404.80" fill="#000"/>
<polygon points="133.23,399.20 140.13,411.40 126.33,411.40" fill="#000"/>
<polygon points="178.05,399.40 184.95,411.60 171.15,411.60" fill="#000"/>
<polygon points="268.80,396.90 275.70,409.10 261.90,409.10" fill="#000"/>
<polyline points="88.40,498.70 106.33,506.00 133.23,518.40 178.05,544.00 267.70,572.00" fill="none" stroke="#222" stroke-width="0.8"/>
<polyline points="88.40,498.70 106.33,517.33 133.23,538.03 178.05,563.73 267.70,574.63" fill="none" stroke="#000" stroke-width="1.4"/>
<polyline points="88.40,498.70 106.33,558.53 133.23,578.73 178.05,578.73 267.70,572.03" fill="none" stroke="#000" stroke-width="1.4"/>
<circle cx="88.40" cy="498.70" r="6.5" fill="#000"/>
<circle cx="106.33" cy="506.00" r="6.5" fill="#000"/>
<circle cx="133.23" cy="518.40" r="6.5" fill="#000"/>
<circle cx="178.05" cy="544.00" r="6.5" fill="#000"/>
<circle cx="267.70" cy="572.00" r="6.5" fill="#000"/>
<polygon points="88.40,492.17 93.90,501.97 82.90,501.97" fill="#fff" stroke="#000" stroke-width="1.6" stroke-linejoin="miter"/>
<polygon points="106.33,510.80 111.83,520.60 100.83,520.60" fill="#fff" stroke="#000" stroke-width="1.6" stroke-linejoin="miter"/>
<polygon points="133.23,531.50 138.73,541.30 127.73,541.30" fill="#fff" stroke="#000" stroke-width="1.6" stroke-linejoin="miter"/>
<polygon points="178.05,557.20 183.55,567.00 172.55,567.00" fill="#fff" stroke="#000" stroke-width="1.6" stroke-linejoin="miter"/>
<polygon points="267.70,568.10 273.20,577.90 262.20,577.90" fill="#fff" stroke="#000" stroke-width="1.6" stroke-linejoin="miter"/>
<polygon points="88.40,490.57 95.30,502.77 81.50,502.77" fill="#000"/>
<polygon points="106.33,550.40 113.23,562.60 99.43,562.60" fill="#000"/>
<polygon points="133.23,570.60 140.13,582.80 126.33,582.80" fill="#000"/>
<polygon points="178.05,570.60 184.95,582.80 171.15,582.80" fill="#000"/>
<polygon points="267.70,563.90 274.60,576.10 260.80,576.10" fill="#000"/>
<polyline points="303.40,32.80 321.40,41.60 348.20,52.00 393.30,63.60 483.00,76.40" fill="none" stroke="#222" stroke-width="0.8"/>
<polyline points="303.40,32.80 321.40,50.23 348.20,59.23 393.30,69.53 483.00,81.53" fill="none" stroke="#000" stroke-width="1.4"/>
<polyline points="303.40,32.80 321.40,44.03 348.20,53.03 393.30,70.03 483.00,97.23" fill="none" stroke="#000" stroke-width="1.4"/>
<circle cx="321.40" cy="41.60" r="6.5" fill="#000"/>
<circle cx="348.20" cy="52.00" r="6.5" fill="#000"/>
<circle cx="393.30" cy="63.60" r="6.5" fill="#000"/>
<circle cx="483.00" cy="76.40" r="6.5" fill="#000"/>
<polygon points="321.40,43.70 326.90,53.50 315.90,53.50" fill="#fff" stroke="#000" stroke-width="1.6" stroke-linejoin="miter"/>
<polygon points="348.20,52.70 353.70,62.50 342.70,62.50" fill="#fff" stroke="#000" stroke-width="1.6" stroke-linejoin="miter"/>
<polygon points="393.30,63.00 398.80,72.80 387.80,72.80" fill="#fff" stroke="#000" stroke-width="1.6" stroke-linejoin="miter"/>
<polygon points="483.00,75.00 488.50,84.80 477.50,84.80" fill="#fff" stroke="#000" stroke-width="1.6" stroke-linejoin="miter"/>
<polygon points="303.40,24.67 310.30,36.87 296.50,36.87" fill="#000"/>
<polygon points="321.40,35.90 328.30,48.10 314.50,48.10" fill="#000"/>
<polygon points="348.20,44.90 355.10,57.10 341.30,57.10" fill="#000"/>
<polygon points="393.30,61.90 400.20,74.10 386.40,74.10" fill="#000"/>
<polygon points="483.00,89.10 489.90,101.30 476.10,101.30" fill="#000"/>
<polyline points="303.40,343.20 321.50,393.70 348.80,392.10 393.80,400.90 483.80,416.00" fill="none" stroke="#222" stroke-width="0.8"/>
<polyline points="303.40,343.20 321.50,414.93 348.80,417.03 393.80,417.83 483.80,420.03" fill="none" stroke="#000" stroke-width="1.2"/>
<polyline points="303.40,343.20 321.50,450.33 348.80,449.63 393.80,444.03 483.80,447.53" fill="none" stroke="#000" stroke-width="1.2"/>
<circle cx="303.40" cy="343.20" r="6.5" fill="#000"/>
<circle cx="321.50" cy="393.70" r="6.5" fill="#000"/>
<circle cx="348.80" cy="392.10" r="6.5" fill="#000"/>
<circle cx="393.80" cy="400.90" r="6.5" fill="#000"/>
<circle cx="483.80" cy="416.00" r="6.5" fill="#000"/>
<line x1="321.50" y1="408.60" x2="321.50" y2="423.10" stroke="#000" stroke-width="1.1"/>
<line x1="317.10" y1="408.60" x2="325.90" y2="408.60" stroke="#000" stroke-width="1.1"/>
<line x1="317.10" y1="423.10" x2="325.90" y2="423.10" stroke="#000" stroke-width="1.1"/>
<line x1="348.80" y1="410.50" x2="348.80" y2="425.30" stroke="#000" stroke-width="1.1"/>
<line x1="344.40" y1="410.50" x2="353.20" y2="410.50" stroke="#000" stroke-width="1.1"/>
<line x1="344.40" y1="425.30" x2="353.20" y2="425.30" stroke="#000" stroke-width="1.1"/>
<line x1="393.80" y1="411.50" x2="393.80" y2="423.80" stroke="#000" stroke-width="1.1"/>
<line x1="389.40" y1="411.50" x2="398.20" y2="411.50" stroke="#000" stroke-width="1.1"/>
<line x1="389.40" y1="423.80" x2="398.20" y2="423.80" stroke="#000" stroke-width="1.1"/>
<line x1="483.80" y1="418.00" x2="483.80" y2="427.60" stroke="#000" stroke-width="1.1"/>
<line x1="479.40" y1="427.60" x2="488.20" y2="427.60" stroke="#000" stroke-width="1.1"/>
<polygon points="303.40,336.67 308.90,346.47 297.90,346.47" fill="#fff" stroke="#000" stroke-width="1.6" stroke-linejoin="miter"/>
<polygon points="321.50,408.40 327.00,418.20 316.00,418.20" fill="#fff" stroke="#000" stroke-width="1.6" stroke-linejoin="miter"/>
<polygon points="348.80,410.50 354.30,420.30 343.30,420.30" fill="#fff" stroke="#000" stroke-width="1.6" stroke-linejoin="miter"/>
<polygon points="393.80,411.30 399.30,421.10 388.30,421.10" fill="#fff" stroke="#000" stroke-width="1.6" stroke-linejoin="miter"/>
<polygon points="483.80,413.50 489.30,423.30 478.30,423.30" fill="#fff" stroke="#000" stroke-width="1.6" stroke-linejoin="miter"/>
<line x1="321.50" y1="439.20" x2="321.50" y2="449.00" stroke="#000" stroke-width="1.1"/>
<line x1="317.10" y1="439.20" x2="325.90" y2="439.20" stroke="#000" stroke-width="1.1"/>
<line x1="348.80" y1="438.50" x2="348.80" y2="448.00" stroke="#000" stroke-width="1.1"/>
<line x1="344.40" y1="438.50" x2="353.20" y2="438.50" stroke="#000" stroke-width="1.1"/>
<line x1="393.80" y1="432.50" x2="393.80" y2="442.00" stroke="#000" stroke-width="1.1"/>
<line x1="389.40" y1="432.50" x2="398.20" y2="432.50" stroke="#000" stroke-width="1.1"/>
<line x1="483.80" y1="440.00" x2="483.80" y2="467.60" stroke="#000" stroke-width="1.1"/>
<line x1="479.40" y1="440.00" x2="488.20" y2="440.00" stroke="#000" stroke-width="1.1"/>
<polygon points="303.40,335.07 310.30,347.27 296.50,347.27" fill="#000"/>
<polygon points="321.50,442.20 328.40,454.40 314.60,454.40" fill="#000"/>
<polygon points="348.80,441.50 355.70,453.70 341.90,453.70" fill="#000"/>
<polygon points="393.80,435.90 400.70,448.10 386.90,448.10" fill="#000"/>
<polygon points="483.80,439.40 490.70,451.60 476.90,451.60" fill="#000"/>
<g clip-path="url(#cr3)">
<polyline points="321.40,585.53 348.60,644.00" fill="none" stroke="#000" stroke-width="1.4"/>
</g>
<polyline points="303.40,498.70 321.40,508.10 348.50,525.60 393.80,545.40 483.10,557.90" fill="none" stroke="#000" stroke-width="1.4"/>
<polyline points="303.40,498.70 321.40,528.93 348.50,542.23 393.80,560.83 483.10,573.23" fill="none" stroke="#000" stroke-width="1.4"/>
<polyline points="303.40,498.70 321.40,585.53" fill="none" stroke="#000" stroke-width="1.4"/>
<line x1="348.50" y1="520.60" x2="348.50" y2="525.00" stroke="#000" stroke-width="1.3"/>
<line x1="343.30" y1="520.60" x2="353.70" y2="520.60" stroke="#000" stroke-width="1.3"/>
<line x1="393.80" y1="540.10" x2="393.80" y2="545.00" stroke="#000" stroke-width="1.3"/>
<line x1="388.60" y1="540.10" x2="399.00" y2="540.10" stroke="#000" stroke-width="1.3"/>
<line x1="483.10" y1="557.50" x2="483.10" y2="565.00" stroke="#000" stroke-width="1.1"/>
<line x1="478.70" y1="565.00" x2="487.50" y2="565.00" stroke="#000" stroke-width="1.1"/>
<circle cx="303.40" cy="498.70" r="6.5" fill="#000"/>
<circle cx="321.40" cy="508.10" r="6.5" fill="#000"/>
<circle cx="348.50" cy="525.60" r="6.5" fill="#000"/>
<circle cx="393.80" cy="545.40" r="6.5" fill="#000"/>
<circle cx="483.10" cy="557.90" r="6.5" fill="#000"/>
<line x1="321.40" y1="524.00" x2="321.40" y2="532.50" stroke="#000" stroke-width="1.1"/>
<line x1="317.00" y1="524.00" x2="325.80" y2="524.00" stroke="#000" stroke-width="1.1"/>
<line x1="317.00" y1="532.50" x2="325.80" y2="532.50" stroke="#000" stroke-width="1.1"/>
<line x1="348.50" y1="535.00" x2="348.50" y2="547.10" stroke="#000" stroke-width="1.1"/>
<line x1="344.10" y1="535.00" x2="352.90" y2="535.00" stroke="#000" stroke-width="1.1"/>
<line x1="344.10" y1="547.10" x2="352.90" y2="547.10" stroke="#000" stroke-width="1.1"/>
<line x1="393.80" y1="553.50" x2="393.80" y2="570.00" stroke="#000" stroke-width="1.1"/>
<line x1="389.40" y1="553.50" x2="398.20" y2="553.50" stroke="#000" stroke-width="1.1"/>
<line x1="389.40" y1="570.00" x2="398.20" y2="570.00" stroke="#000" stroke-width="1.1"/>
<line x1="483.10" y1="565.00" x2="483.10" y2="583.70" stroke="#000" stroke-width="1.1"/>
<line x1="478.70" y1="565.00" x2="487.50" y2="565.00" stroke="#000" stroke-width="1.1"/>
<line x1="478.70" y1="583.70" x2="487.50" y2="583.70" stroke="#000" stroke-width="1.1"/>
<polygon points="303.40,492.17 308.90,501.97 297.90,501.97" fill="#fff" stroke="#000" stroke-width="1.6" stroke-linejoin="miter"/>
<polygon points="321.40,522.40 326.90,532.20 315.90,532.20" fill="#fff" stroke="#000" stroke-width="1.6" stroke-linejoin="miter"/>
<polygon points="348.50,535.70 354.00,545.50 343.00,545.50" fill="#fff" stroke="#000" stroke-width="1.6" stroke-linejoin="miter"/>
<polygon points="393.80,554.30 399.30,564.10 388.30,564.10" fill="#fff" stroke="#000" stroke-width="1.6" stroke-linejoin="miter"/>
<polygon points="483.10,566.70 488.60,576.50 477.60,576.50" fill="#fff" stroke="#000" stroke-width="1.6" stroke-linejoin="miter"/>
<line x1="321.40" y1="579.50" x2="321.40" y2="593.20" stroke="#000" stroke-width="1.1"/>
<line x1="317.00" y1="579.50" x2="325.80" y2="579.50" stroke="#000" stroke-width="1.1"/>
<line x1="317.00" y1="593.20" x2="325.80" y2="593.20" stroke="#000" stroke-width="1.1"/>
<polygon points="303.40,490.57 310.30,502.77 296.50,502.77" fill="#000"/>
<polygon points="321.40,577.40 328.30,589.60 314.50,589.60" fill="#000"/>
<line x1="88.40" y1="0.00" x2="88.40" y2="623.00" stroke="#000" stroke-width="1.7"/>
<line x1="303.40" y1="0.00" x2="303.40" y2="623.00" stroke="#000" stroke-width="1.7"/>
<rect x="87.55" y="-4" width="440" height="5.7" fill="#000"/>
<line x1="88.40" y1="156.90" x2="526.00" y2="156.90" stroke="#000" stroke-width="1.8"/>
<line x1="88.40" y1="312.10" x2="526.00" y2="312.10" stroke="#000" stroke-width="1.8"/>
<line x1="88.40" y1="467.60" x2="526.00" y2="467.60" stroke="#000" stroke-width="1.8"/>
<line x1="87.55" y1="623.00" x2="526.00" y2="623.00" stroke="#000" stroke-width="1.8"/>
<rect x="518.1" y="-4" width="6" height="161.80" fill="#000"/>
<rect x="518.1" y="311.20" width="6" height="312.70" fill="#000"/>
<text transform="translate(99.50,20.95) scale(1.1235,1)" font-size="17.70" font-weight="bold" stroke="#000" stroke-width="0.35">CCRF-CEM</text>
<text transform="translate(93.02,176.00) scale(1.0995,1)" font-size="17.70" font-weight="bold" stroke="#000" stroke-width="0.35">COG-LL-317</text>
<text transform="translate(98.71,335.60) scale(1.1639,1)" font-size="17.70" font-weight="bold" stroke="#000" stroke-width="0.35">MOLT-3</text>
<text transform="translate(103.22,492.20) scale(1.1540,1)" font-size="17.70" font-weight="bold" stroke="#000" stroke-width="0.35">MOLT-4</text>
<text transform="translate(312.77,22.90) scale(1.1169,1)" font-size="17.70" font-weight="bold" stroke="#000" stroke-width="0.35">NALM-6</text>
<text transform="translate(317.75,338.20) scale(1.1307,1)" font-size="17.70" font-weight="bold" stroke="#000" stroke-width="0.35">RS4;11*</text>
<text transform="translate(310.77,487.60) scale(1.1075,1)" font-size="17.70" font-weight="bold" stroke="#000" stroke-width="0.35">COG-LL-319*</text>
<line x1="312.00" y1="92.50" x2="350.00" y2="92.50" stroke="#000" stroke-width="0.9"/>
<circle cx="331.00" cy="92.50" r="6.5" fill="#000"/>
<line x1="312.00" y1="112.80" x2="350.00" y2="112.80" stroke="#000" stroke-width="1.2"/>
<polygon points="331.00,108.00 336.50,117.80 325.50,117.80" fill="#fff" stroke="#000" stroke-width="1.6" stroke-linejoin="miter"/>
<line x1="312.00" y1="132.60" x2="350.00" y2="132.60" stroke="#000" stroke-width="1.2"/>
<polygon points="331.00,126.20 337.90,138.40 324.10,138.40" fill="#000"/>
<text transform="translate(360.62,97.50) scale(1.0447,1)" font-size="15.40" stroke="#000" stroke-width="0.2">ABT-737</text>
<text transform="translate(360.62,118.20) scale(1.0082,1)" font-size="15.40" stroke="#000" stroke-width="0.2">VXL</text>
<text transform="translate(360.62,138.00) scale(1.0765,1)" font-size="15.40" stroke="#000" stroke-width="0.2">ABT-737+ VXL</text>
<line x1="339.26" y1="156.90" x2="339.26" y2="159.60" stroke="#000" stroke-width="1.0"/>
<text transform="translate(339.46,182.40) scale(1.06,1)" font-size="15.8" text-anchor="middle" stroke="#000" stroke-width="0.2">2</text>
<line x1="375.12" y1="156.90" x2="375.12" y2="159.60" stroke="#000" stroke-width="1.0"/>
<text transform="translate(375.32,182.40) scale(1.06,1)" font-size="15.8" text-anchor="middle" stroke="#000" stroke-width="0.2">4</text>
<line x1="410.98" y1="156.90" x2="410.98" y2="159.60" stroke="#000" stroke-width="1.0"/>
<text transform="translate(411.18,182.40) scale(1.06,1)" font-size="15.8" text-anchor="middle" stroke="#000" stroke-width="0.2">6</text>
<line x1="446.84" y1="156.90" x2="446.84" y2="159.60" stroke="#000" stroke-width="1.0"/>
<text transform="translate(447.04,182.40) scale(1.06,1)" font-size="15.8" text-anchor="middle" stroke="#000" stroke-width="0.2">8</text>
<line x1="482.70" y1="156.90" x2="482.70" y2="159.60" stroke="#000" stroke-width="1.0"/>
<text transform="translate(482.90,182.40) scale(1.06,1)" font-size="15.8" text-anchor="middle" stroke="#000" stroke-width="0.2">10</text>
<text transform="translate(346.50,206.10) scale(1.1877,1)" font-size="17.00" font-weight="bold" stroke="#000" stroke-width="0.35">ABT-737 (<tspan font-family="'Liberation Serif', serif" font-weight="normal" font-size="17.68">μ</tspan>M)</text>
<line x1="303.40" y1="216.30" x2="526.00" y2="216.30" stroke="#000" stroke-width="1.4"/>
<line x1="339.26" y1="216.40" x2="339.26" y2="220.00" stroke="#000" stroke-width="1.1"/>
<text transform="translate(339.46,243.70) scale(1.06,1)" font-size="15.8" text-anchor="middle" stroke="#000" stroke-width="0.2">1</text>
<line x1="375.12" y1="216.40" x2="375.12" y2="220.00" stroke="#000" stroke-width="1.1"/>
<text transform="translate(375.32,243.70) scale(1.06,1)" font-size="15.8" text-anchor="middle" stroke="#000" stroke-width="0.2">2</text>
<line x1="410.98" y1="216.40" x2="410.98" y2="220.00" stroke="#000" stroke-width="1.1"/>
<text transform="translate(411.18,243.70) scale(1.06,1)" font-size="15.8" text-anchor="middle" stroke="#000" stroke-width="0.2">3</text>
<line x1="446.84" y1="216.40" x2="446.84" y2="220.00" stroke="#000" stroke-width="1.1"/>
<text transform="translate(447.04,243.70) scale(1.06,1)" font-size="15.8" text-anchor="middle" stroke="#000" stroke-width="0.2">4</text>
<line x1="482.70" y1="216.40" x2="482.70" y2="220.00" stroke="#000" stroke-width="1.1"/>
<text transform="translate(482.90,243.70) scale(1.06,1)" font-size="15.8" text-anchor="middle" stroke="#000" stroke-width="0.2">5</text>
<text transform="translate(391.31,264.00) scale(1.1271,1)" font-size="17.00" font-weight="bold" stroke="#000" stroke-width="0.35">VXL</text>
<line x1="88.40" y1="623.00" x2="88.40" y2="626.80" stroke="#000" stroke-width="1.1"/>
<text transform="translate(88.60,647.70) scale(1.06,1)" font-size="15.2" text-anchor="middle" stroke="#000" stroke-width="0.2">0</text>
<line x1="124.26" y1="623.00" x2="124.26" y2="626.80" stroke="#000" stroke-width="1.1"/>
<text transform="translate(124.46,647.70) scale(1.06,1)" font-size="15.2" text-anchor="middle" stroke="#000" stroke-width="0.2">2</text>
<line x1="160.12" y1="623.00" x2="160.12" y2="626.80" stroke="#000" stroke-width="1.1"/>
<text transform="translate(160.32,647.70) scale(1.06,1)" font-size="15.2" text-anchor="middle" stroke="#000" stroke-width="0.2">4</text>
<line x1="195.98" y1="623.00" x2="195.98" y2="626.80" stroke="#000" stroke-width="1.1"/>
<text transform="translate(196.18,647.70) scale(1.06,1)" font-size="15.2" text-anchor="middle" stroke="#000" stroke-width="0.2">6</text>
<line x1="231.84" y1="623.00" x2="231.84" y2="626.80" stroke="#000" stroke-width="1.1"/>
<text transform="translate(232.04,647.70) scale(1.06,1)" font-size="15.2" text-anchor="middle" stroke="#000" stroke-width="0.2">8</text>
<line x1="267.70" y1="623.00" x2="267.70" y2="626.80" stroke="#000" stroke-width="1.1"/>
<text transform="translate(267.90,647.70) scale(1.06,1)" font-size="15.2" text-anchor="middle" stroke="#000" stroke-width="0.2">10</text>
<text transform="translate(143.59,676.00) scale(1.1321,1)" font-size="16.20" font-weight="bold" stroke="#000" stroke-width="0.35">ABT-737 (<tspan font-family="'Liberation Serif', serif" font-weight="normal" font-size="16.85">μ</tspan>M)</text>
<line x1="87.80" y1="689.30" x2="526.00" y2="689.30" stroke="#000" stroke-width="1.3"/>
<line x1="88.40" y1="689.30" x2="88.40" y2="694.70" stroke="#000" stroke-width="1.1"/>
<text transform="translate(88.60,717.20) scale(1.06,1)" font-size="15.5" text-anchor="middle" stroke="#000" stroke-width="0.2">0</text>
<line x1="124.26" y1="689.30" x2="124.26" y2="694.70" stroke="#000" stroke-width="1.1"/>
<text transform="translate(124.46,717.20) scale(1.06,1)" font-size="15.5" text-anchor="middle" stroke="#000" stroke-width="0.2">1</text>
<line x1="160.12" y1="689.30" x2="160.12" y2="694.70" stroke="#000" stroke-width="1.1"/>
<text transform="translate(160.32,717.20) scale(1.06,1)" font-size="15.5" text-anchor="middle" stroke="#000" stroke-width="0.2">2</text>
<line x1="195.98" y1="689.30" x2="195.98" y2="694.70" stroke="#000" stroke-width="1.1"/>
<text transform="translate(196.18,717.20) scale(1.06,1)" font-size="15.5" text-anchor="middle" stroke="#000" stroke-width="0.2">3</text>
<line x1="231.84" y1="689.30" x2="231.84" y2="694.70" stroke="#000" stroke-width="1.1"/>
<text transform="translate(232.04,717.20) scale(1.06,1)" font-size="15.5" text-anchor="middle" stroke="#000" stroke-width="0.2">4</text>
<line x1="267.70" y1="689.30" x2="267.70" y2="694.70" stroke="#000" stroke-width="1.1"/>
<text transform="translate(267.90,717.20) scale(1.06,1)" font-size="15.5" text-anchor="middle" stroke="#000" stroke-width="0.2">5</text>
<text transform="translate(172.62,738.00) scale(1.0771,1)" font-size="16.40" font-weight="bold" stroke="#000" stroke-width="0.35">VXL</text>
<line x1="303.40" y1="623.00" x2="303.40" y2="626.80" stroke="#000" stroke-width="1.1"/>
<text transform="translate(303.40,650.20) scale(1.04,1)" font-size="14.8" text-anchor="middle" stroke="#000" stroke-width="0.2">0.0</text>
<line x1="339.26" y1="623.00" x2="339.26" y2="626.80" stroke="#000" stroke-width="1.1"/>
<text transform="translate(339.26,650.20) scale(1.04,1)" font-size="14.8" text-anchor="middle" stroke="#000" stroke-width="0.2">0.2</text>
<line x1="375.12" y1="623.00" x2="375.12" y2="626.80" stroke="#000" stroke-width="1.1"/>
<text transform="translate(375.12,650.20) scale(1.04,1)" font-size="14.8" text-anchor="middle" stroke="#000" stroke-width="0.2">0.4</text>
<line x1="410.98" y1="623.00" x2="410.98" y2="626.80" stroke="#000" stroke-width="1.1"/>
<text transform="translate(410.98,650.20) scale(1.04,1)" font-size="14.8" text-anchor="middle" stroke="#000" stroke-width="0.2">0.6</text>
<line x1="446.84" y1="623.00" x2="446.84" y2="626.80" stroke="#000" stroke-width="1.1"/>
<text transform="translate(446.84,650.20) scale(1.04,1)" font-size="14.8" text-anchor="middle" stroke="#000" stroke-width="0.2">0.8</text>
<line x1="482.70" y1="623.00" x2="482.70" y2="626.80" stroke="#000" stroke-width="1.1"/>
<text transform="translate(482.70,650.20) scale(1.04,1)" font-size="14.8" text-anchor="middle" stroke="#000" stroke-width="0.2">1.0</text>
<text transform="translate(354.69,674.10) scale(1.1119,1)" font-size="14.80" font-weight="bold" stroke="#000" stroke-width="0.35">ABT-737 (<tspan font-family="'Liberation Serif', serif" font-weight="normal" font-size="15.39">μ</tspan>M)</text>
<line x1="303.40" y1="689.30" x2="303.40" y2="694.70" stroke="#000" stroke-width="1.1"/>
<text transform="translate(303.70,716.00) scale(1.06,1)" font-size="15.2" text-anchor="middle" stroke="#000" stroke-width="0.2">0</text>
<line x1="339.26" y1="689.30" x2="339.26" y2="694.70" stroke="#000" stroke-width="1.1"/>
<text transform="translate(339.56,716.00) scale(1.06,1)" font-size="15.2" text-anchor="middle" stroke="#000" stroke-width="0.2">1</text>
<line x1="375.12" y1="689.30" x2="375.12" y2="694.70" stroke="#000" stroke-width="1.1"/>
<text transform="translate(375.42,716.00) scale(1.06,1)" font-size="15.2" text-anchor="middle" stroke="#000" stroke-width="0.2">2</text>
<line x1="410.98" y1="689.30" x2="410.98" y2="694.70" stroke="#000" stroke-width="1.1"/>
<text transform="translate(411.28,716.00) scale(1.06,1)" font-size="15.2" text-anchor="middle" stroke="#000" stroke-width="0.2">3</text>
<line x1="446.84" y1="689.30" x2="446.84" y2="694.70" stroke="#000" stroke-width="1.1"/>
<text transform="translate(447.14,716.00) scale(1.06,1)" font-size="15.2" text-anchor="middle" stroke="#000" stroke-width="0.2">4</text>
<line x1="482.70" y1="689.30" x2="482.70" y2="694.70" stroke="#000" stroke-width="1.1"/>
<text transform="translate(483.00,716.00) scale(1.06,1)" font-size="15.2" text-anchor="middle" stroke="#000" stroke-width="0.2">5</text>
<text transform="translate(391.34,737.30) scale(0.9838,1)" font-size="15.90" font-weight="bold" stroke="#000" stroke-width="0.35">VXL</text>
</g>
</g>
</svg>
</body></html>
